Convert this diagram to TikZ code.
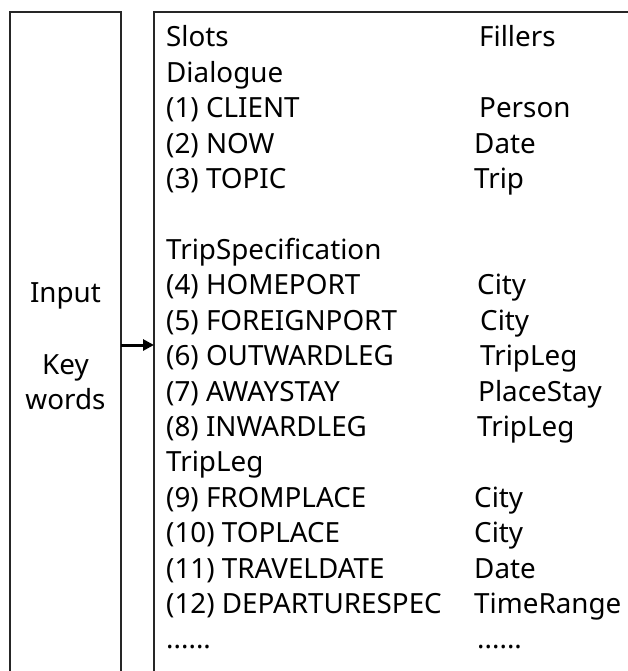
\documentclass[tikz,border=0pt]{standalone}
\usepackage{fontspec}
\setmainfont{Noto Sans}
\usetikzlibrary{arrows.meta}
\begin{document}
\begin{tikzpicture}[x=1pt,y=-1pt,
  frame/.style={draw=black!85,line width=1.2pt},
  txt/.style={inner sep=0pt,anchor=base west,font=\fontsize{27.8}{30}\selectfont},
  side/.style={inner sep=0pt,anchor=base,font=\fontsize{27.8}{30}\selectfont},
  feed/.style={draw=black,line width=3pt,-{Triangle[length=11pt,width=11pt]}}]
\useasboundingbox (0,0) rectangle (627,671);
% input column and slot table (both run past the lower and right edges)
\draw[frame] (10,700) -- (10,12) -- (121,12) -- (121,700);
\draw[frame] (154,700) -- (154,12) -- (660,12);
% input column labels
\node[side] (in)  at (65.5,302) {Input};
\node[side] (key) at (65.5,374) {Key};
\node[side] (wd)  at (65.5,409) {words};
% arrow from the input column into the table
\coordinate (src) at (121,345);
\coordinate (dst) at (154,345);
\draw[feed] (src) -- (dst);
% slot names
\def\bl#1{47+35.4*#1}
\node[txt] (s0)  at (166,{\bl{0}})  {Slots};
\node[txt] (s1)  at (166,{\bl{1}})  {Dialogue};
\node[txt] (s2)  at (166,{\bl{2}})  {(1) CLIENT};
\node[txt] (s3)  at (166,{\bl{3}})  {(2) NOW};
\node[txt] (s4)  at (166,{\bl{4}})  {(3) TOPIC};
\node[txt] (s6)  at (166,{\bl{6}})  {TripSpecification};
\node[txt] (s7)  at (166,{\bl{7}})  {(4) HOMEPORT};
\node[txt] (s8)  at (166,{\bl{8}})  {(5) FOREIGNPORT};
\node[txt] (s9)  at (166,{\bl{9}})  {(6) OUTWARDLEG};
\node[txt] (s10) at (166,{\bl{10}}) {(7) AWAYSTAY};
\node[txt] (s11) at (166,{\bl{11}}) {(8) INWARDLEG};
\node[txt] (s12) at (166,{\bl{12}}) {TripLeg};
\node[txt] (s13) at (166,{\bl{13}}) {(9) FROMPLACE};
\node[txt] (s14) at (166,{\bl{14}}) {(10) TOPLACE};
\node[txt] (s15) at (166,{\bl{15}}) {(11) TRAVELDATE};
\node[txt] (s16) at (166,{\bl{16}}) {(12) DEPARTURESPEC};
\node[txt] (s17) at (166,{\bl{17}}) {......};
% fillers
\node[txt] (f0)  at (479,{\bl{0}})  {Fillers};
\node[txt] (f2)  at (479,{\bl{2}})  {Person};
\node[txt] (f3)  at (474,{\bl{3}})  {Date};
\node[txt] (f4)  at (474,{\bl{4}})  {Trip};
\node[txt] (f7)  at (477,{\bl{7}})  {City};
\node[txt] (f8)  at (480,{\bl{8}})  {City};
\node[txt] (f9)  at (480,{\bl{9}})  {TripLeg};
\node[txt] (f10) at (478,{\bl{10}}) {PlaceStay};
\node[txt] (f11) at (477,{\bl{11}}) {TripLeg};
\node[txt] (f13) at (474,{\bl{13}}) {City};
\node[txt] (f14) at (474,{\bl{14}}) {City};
\node[txt] (f15) at (474,{\bl{15}}) {Date};
\node[txt] (f16) at (474,{\bl{16}}) {TimeRange};
\node[txt] (f17) at (477,{\bl{17}}) {......};
\end{tikzpicture}
\end{document}
